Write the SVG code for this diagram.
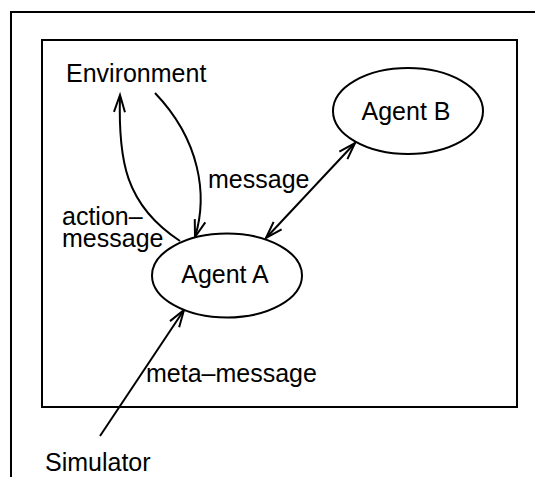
<svg xmlns="http://www.w3.org/2000/svg" width="535" height="477" viewBox="0 0 535 477">
  <style>
    .frame { fill: none; stroke: #000; stroke-width: 2; }
    .node { fill: #fff; stroke: #000; stroke-width: 2; }
    .label { font-family: "Liberation Sans", Arial, sans-serif; font-size: 25px; fill: #000; }
    .edge { fill: none; stroke: #000; stroke-width: 2; }
  </style>
  <defs>
    <marker id="arrow" markerUnits="userSpaceOnUse" markerWidth="24" markerHeight="16" viewBox="-20 -8 24 16" refX="0" refY="0" orient="auto-start-reverse">
      <path d="M-17,-5.5 L0,0 L-17,5.5" fill="none" stroke="#000" stroke-width="2"/>
    </marker>
  </defs>

  <!-- page frame (top and left edges only) -->
  <path class="frame" d="M11,477 V12 H535"/>
  <!-- system boundary -->
  <rect class="frame" x="42" y="40" width="475" height="367"/>

  <g id="connectors">
    <!-- Agent A to Environment: action-message -->
    <path class="edge" d="M180,241 C125,205 118,160 120,95" marker-end="url(#arrow)"/>
    <!-- Environment to Agent A: message -->
    <path class="edge" d="M155,93 C200,140 208,195 195,237" marker-end="url(#arrow)"/>
    <!-- Agent A and Agent B -->
    <path class="edge" d="M266,238 L355,143" marker-start="url(#arrow)" marker-end="url(#arrow)"/>
    <!-- Simulator to Agent A: meta-message -->
    <path class="edge" d="M100,436 L184,310" marker-end="url(#arrow)"/>
    <text class="label" x="208" y="188">message</text>
    <text class="label" x="62" y="225">action–</text>
    <text class="label" x="62" y="247">message</text>
    <text class="label" x="146" y="382">meta–message</text>
  </g>

  <g id="environment">
    <text class="label" x="66" y="82">Environment</text>
  </g>

  <g id="agent-b">
    <ellipse class="node" cx="408" cy="111" rx="75" ry="43"/>
    <text class="label" x="406" y="120" text-anchor="middle">Agent B</text>
  </g>

  <g id="agent-a">
    <ellipse class="node" cx="227" cy="275.5" rx="75" ry="42"/>
    <text class="label" x="225" y="283" text-anchor="middle">Agent A</text>
  </g>

  <g id="simulator">
    <text class="label" x="45" y="471">Simulator</text>
  </g>
</svg>
